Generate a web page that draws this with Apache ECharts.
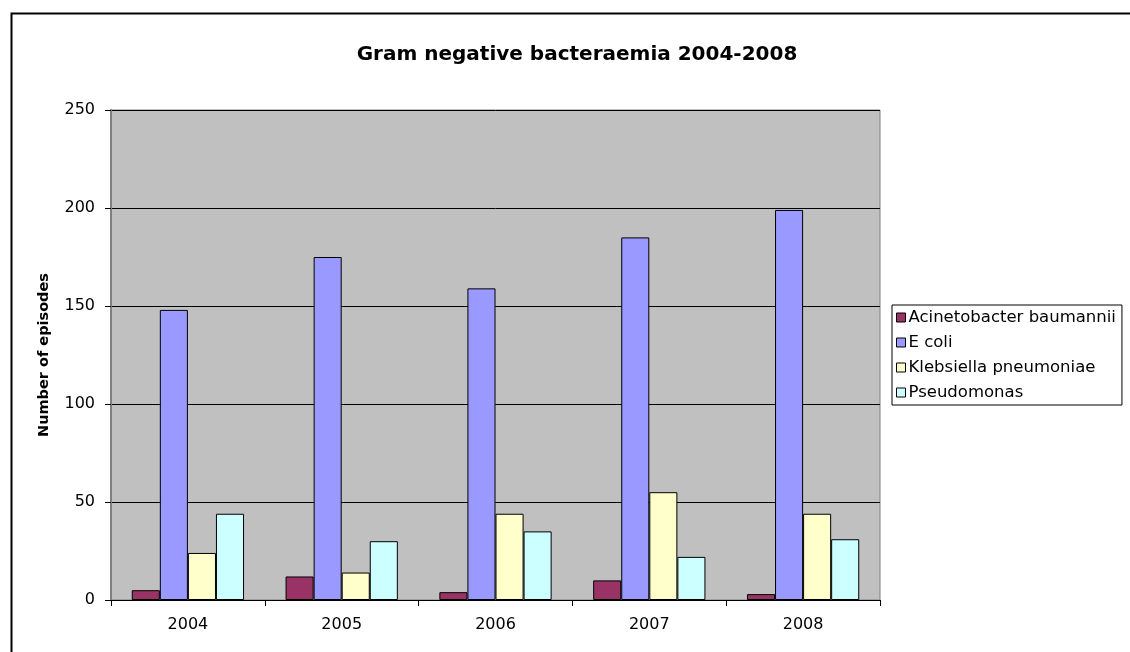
<!DOCTYPE html>
<html>
<head>
<meta charset="utf-8">
<script src="https://cdn.jsdelivr.net/npm/echarts@6/dist/echarts.min.js"></script>
<style>html,body{margin:0;padding:0;background:#fff}#c{width:1130px;height:652px}</style>
</head>
<body>
<div id="c"></div>
<script>
const categories = ['2004', '2005', '2006', '2007', '2008'];
const seriesNames = ['Acinetobacter baumannii', 'E coli', 'Klebsiella pneumoniae', 'Pseudomonas'];
const acinetobacter = [5, 12, 4, 10, 3];
const ecoli = [148, 175, 159, 185, 199];
const klebsiella = [24, 14, 44, 55, 44];
const pseudomonas = [44, 30, 35, 22, 31];
const colors = ['#993366', '#9999FF', '#FFFFCC', '#CCFFFF'];
const values = [acinetobacter, ecoli, klebsiella, pseudomonas];

const chart = echarts.init(document.getElementById('c'));
const font = 'DejaVu Sans, Verdana, sans-serif';
chart.setOption({
  animation: false,
  backgroundColor: '#fff',
  textStyle: { fontFamily: font },
  graphic: [{
    type: 'rect', left: 9, top: 11, z: -1,
    shape: { width: 1200, height: 700 },
    style: { fill: 'none', stroke: '#000', lineWidth: 2 }
  }],
  title: {
    text: 'Gram negative bacteraemia 2004-2008',
    left: 572, top: 40, textAlign: 'center',
    textStyle: { fontFamily: font, fontSize: 20, fontWeight: 'bold', color: '#000' }
  },
  legend: {
    orient: 'vertical', left: 892, top: 305,
    padding: [3, 6, 3, 4],
    itemWidth: 9, itemHeight: 9, itemGap: 6,
    borderColor: '#000', borderWidth: 1, backgroundColor: '#fff',
    icon: 'rect',
    textStyle: { fontFamily: font, fontSize: 16.5, color: '#000', lineHeight: 19, padding: [0, 0, 0, -2] },
    itemStyle: { borderColor: '#000', borderWidth: 1 },
    data: seriesNames
  },
  grid: {
    left: 111, top: 110, right: 250, bottom: 52,
    show: true, backgroundColor: '#C0C0C0', borderColor: '#808080', borderWidth: 1
  },
  xAxis: {
    type: 'category', data: categories,
    axisLine: { lineStyle: { color: '#000', width: 1 } },
    axisTick: { show: true, length: 6, lineStyle: { color: '#000' } },
    axisLabel: { fontFamily: font, fontSize: 16, color: '#000', margin: 17 }
  },
  yAxis: {
    type: 'value', min: 0, max: 250, interval: 50,
    name: 'Number of episodes', nameLocation: 'middle', nameGap: 59, nameRotate: 90,
    nameTextStyle: { fontFamily: font, fontSize: 14.5, fontWeight: 'bold', color: '#000' },
    axisLine: { show: true, lineStyle: { color: '#808080', width: 2 } },
    axisTick: { show: true, length: 6, lineStyle: { color: '#000' } },
    axisLabel: { fontFamily: font, fontSize: 16, color: '#000', margin: 16 },
    splitLine: { show: true, lineStyle: { color: '#000', width: 1 } }
  },
  series: seriesNames.map((n, i) => ({
    name: n, type: 'bar', data: values[i],
    barGap: '0%', barCategoryGap: '27%',
    itemStyle: { color: colors[i], borderColor: '#000', borderWidth: 1 }
  }))
});
</script>
</body>
</html>
